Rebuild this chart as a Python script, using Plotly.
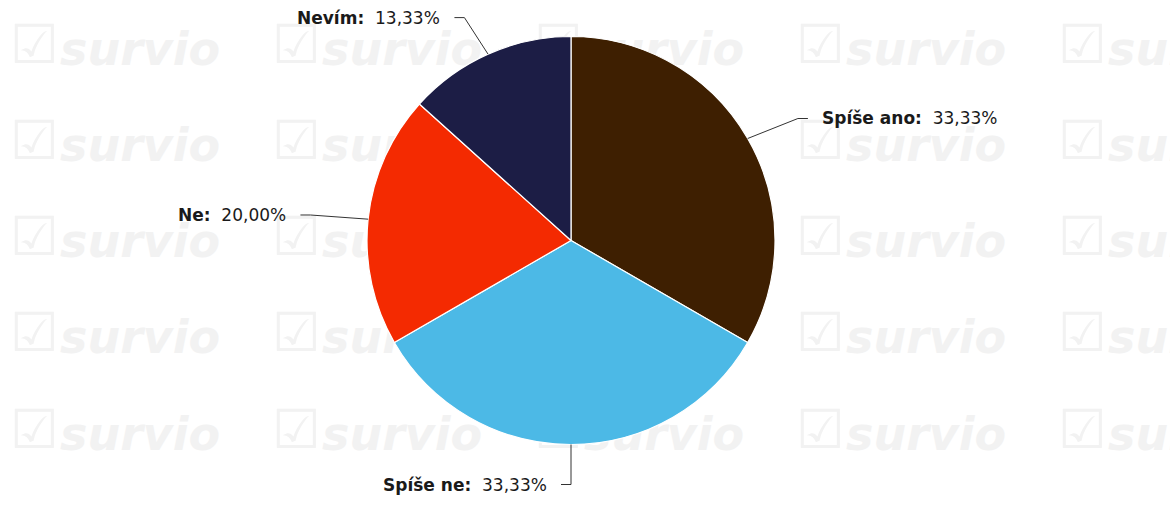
import numpy as np
import plotly.graph_objects as go

# Survey answers (response counts) in drawing order, clockwise from 12 o'clock
labels = ["Spíše ano", "Spíše ne", "Ne", "Nevím"]
counts = [5, 5, 3, 2]
colors = ["#3e1f01", "#4cb9e6", "#f42a01", "#1c1d45"]

W, H = 1170, 518
CX, CY, R = 571, 240.5, 204          # pie centre and radius in pixels
LEAD_X, LEAD_Y = 58, 40                # connector reach beyond the rim
ELBOW = 10                             # horizontal part of the connector
GAP = 22                               # connector bend to label edge

def px(x):
    return x / W

def py(y):
    return 1 - y / H

fig = go.Figure()

# faint tiled watermark on a hidden cartesian layer (sits beneath the pie)
wm_x, wm_y = np.meshgrid(np.arange(5) * 262 + 10, np.arange(5) * 96.25 + 53)
wm_x, wm_y = wm_x.ravel(), wm_y.ravel()
wm_color = "#f2f2f2"
fig.add_trace(go.Scatter(
    x=wm_x, y=wm_y - 4, mode="text", text=["☑"] * wm_x.size,
    textposition="middle right",
    textfont=dict(family="DejaVu Sans", size=54, color=wm_color),
    hoverinfo="skip", showlegend=False,
))
fig.add_trace(go.Scatter(
    x=wm_x + 50, y=wm_y, mode="text", text=["survio"] * wm_x.size,
    textposition="middle right",
    textfont=dict(family="DejaVu Sans", size=46, color=wm_color,
                  weight="bold", style="italic"),
    hoverinfo="skip", showlegend=False,
))

fig.add_trace(go.Pie(
    labels=labels, values=counts, sort=False, direction="clockwise",
    rotation=0, textinfo="none", hoverinfo="label+percent",
    marker=dict(colors=colors, line=dict(color="white", width=1.2)),
    domain=dict(x=[px(CX - R), px(CX + R)], y=[py(CY + R), py(CY - R)]),
    showlegend=False,
))

# outside labels with leader lines, placed at each slice's mid-angle
total = sum(counts)
shares = np.array(counts) / total
ends = np.cumsum(shares)
mids = ends - shares / 2
shapes, annotations = [], []
for name, share, mid in zip(labels, shares, mids):
    th = 2 * np.pi * mid
    s, c = np.sin(th), np.cos(th)
    x0, y0 = CX + R * s, CY - R * c
    x1, y1 = CX + (R + LEAD_X) * s, CY - (R + LEAD_Y) * c
    side = 1 if s > 1e-6 else -1
    x2 = x1 + side * ELBOW
    shapes.append(dict(
        type="path", xref="paper", yref="paper",
        path=f"M {px(x0)},{py(y0)} L {px(x1)},{py(y1)} L {px(x2)},{py(y1)}",
        line=dict(color="#333333", width=1),
    ))
    pct = f"{share * 100:.2f}".replace(".", ",")
    annotations.append(dict(
        xref="paper", yref="paper", x=px(x1 + side * GAP), y=py(y1),
        xanchor="left" if side > 0 else "right", yanchor="middle",
        text=f"<b>{name}:</b>  {pct}%", showarrow=False,
        font=dict(family="DejaVu Sans", size=17, color="#1a1a1a"),
    ))

fig.update_layout(
    width=W, height=H, margin=dict(l=0, r=0, t=0, b=0),
    paper_bgcolor="white", plot_bgcolor="white",
    xaxis=dict(visible=False, range=[0, W], fixedrange=True),
    yaxis=dict(visible=False, range=[H, 0], fixedrange=True),
    shapes=shapes, annotations=annotations,
)

fig.write_html("out.html")
